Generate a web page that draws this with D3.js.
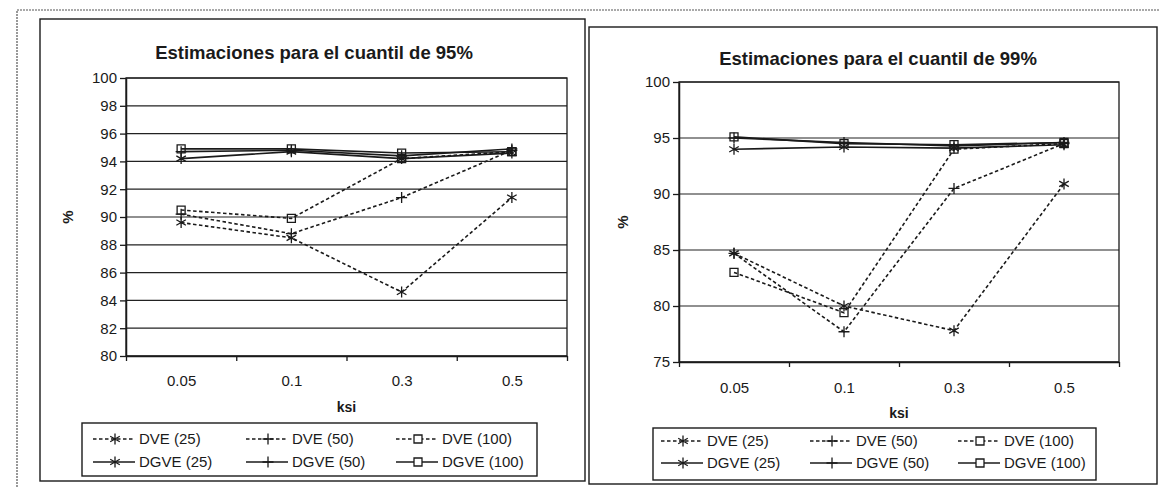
<!DOCTYPE html>
<html>
<head>
<meta charset="utf-8">
<script src="https://cdn.jsdelivr.net/npm/d3@7"></script>
<style>
  html, body { margin: 0; padding: 0; background: #fff; }
  svg { display: block; }
</style>
</head>
<body>
<svg id="chart" width="1160" height="487"></svg>
<script>
// ksi categories on the x axis
const categories = ['0.05', '0.1', '0.3', '0.5'];
const seriesNames = ['DVE (25)', 'DVE (50)', 'DVE (100)', 'DGVE (25)', 'DGVE (50)', 'DGVE (100)'];
const seriesMarkers = ['asterisk', 'plus', 'square', 'asterisk', 'plus', 'square'];
const seriesDashed = [true, true, true, false, false, false];

// quantile 95%
const dve25_95 = [89.6, 88.5, 84.6, 91.4];
const dve50_95 = [90.2, 88.8, 91.4, 94.8];
const dve100_95 = [90.5, 89.9, 94.2, 94.7];
const dgve25_95 = [94.2, 94.7, 94.2, 94.6];
const dgve50_95 = [94.7, 94.8, 94.4, 94.9];
const dgve100_95 = [94.9, 94.9, 94.6, 94.7];
const yTicks95 = [80, 82, 84, 86, 88, 90, 92, 94, 96, 98, 100];

// quantile 99%
const dve25_99 = [84.7, 80.0, 77.8, 90.9];
const dve50_99 = [84.7, 77.7, 90.5, 94.5];
const dve100_99 = [83.0, 79.4, 94.0, 94.5];
const dgve25_99 = [94.0, 94.2, 94.1, 94.4];
const dgve50_99 = [95.0, 94.6, 94.3, 94.6];
const dgve100_99 = [95.1, 94.5, 94.4, 94.6];
const yTicks99 = [75, 80, 85, 90, 95, 100];

const INK = '#1a1a1a';
const FONT = "'Liberation Sans', Arial, sans-serif";

const svg = d3.select('#chart');

// scanned page border (left + top)
svg.append('path')
    .attr('d', 'M17,487 V10 H1160')
    .attr('fill', 'none')
    .attr('stroke', '#555')
    .attr('stroke-width', 1.2)
    .attr('stroke-dasharray', '2,1');

function markerPath(type) {
    if (type === 'asterisk') {
        const r = 5.5, c = r * 0.87, s = r * 0.5;
        return `M0,${-r}V${r}M${-c},${-s}L${c},${s}M${-c},${s}L${c},${-s}`;
    }
    if (type === 'plus') return 'M-5.5,0H5.5M0,-5.5V5.5';
    return 'M-4,-4H4V4H-4Z';
}

function drawChart(cfg) {
    const g = svg.append('g');

    // chart box
    g.append('rect')
        .attr('x', cfg.box[0]).attr('y', cfg.box[1])
        .attr('width', cfg.box[2] - cfg.box[0]).attr('height', cfg.box[3] - cfg.box[1])
        .attr('fill', '#fff').attr('stroke', INK).attr('stroke-width', 1.4);

    const x = d3.scalePoint().domain(categories).range([cfg.plot[0], cfg.plot[2]]).padding(0.5);
    const xEdges = d3.scaleLinear().domain([0, categories.length]).range([cfg.plot[0], cfg.plot[2]]);
    const y = d3.scaleLinear().domain(d3.extent(cfg.yTicks)).range([cfg.plot[3], cfg.plot[1]]);

    // gridlines
    g.append('g').selectAll('line')
        .data(cfg.yTicks).enter().append('line')
        .attr('x1', cfg.plot[0]).attr('x2', cfg.plot[2])
        .attr('y1', d => y(d)).attr('y2', d => y(d))
        .attr('stroke', '#222').attr('stroke-width', 1.2);

    // plot border
    g.append('rect')
        .attr('x', cfg.plot[0]).attr('y', cfg.plot[1])
        .attr('width', cfg.plot[2] - cfg.plot[0]).attr('height', cfg.plot[3] - cfg.plot[1])
        .attr('fill', 'none').attr('stroke', INK).attr('stroke-width', 1.3);

    // y axis
    const yAxis = g.append('g')
        .attr('transform', `translate(${cfg.plot[0]},0)`)
        .call(d3.axisLeft(y).tickValues(cfg.yTicks).tickSize(6).tickPadding(3).tickSizeOuter(0));
    yAxis.select('.domain').attr('stroke', INK).attr('stroke-width', 1.5);
    yAxis.selectAll('.tick line').attr('stroke', INK).attr('stroke-width', 1.3);
    yAxis.selectAll('text').attr('font-family', FONT).attr('font-size', 15).attr('fill', INK);

    // x axis: tick marks between categories, labels on categories
    const xTicks = g.append('g')
        .attr('transform', `translate(0,${cfg.plot[3]})`)
        .call(d3.axisBottom(xEdges).ticks(categories.length).tickFormat('').tickSize(5).tickSizeOuter(0));
    xTicks.select('.domain').attr('stroke', INK).attr('stroke-width', 1.5);
    xTicks.selectAll('.tick line').attr('stroke', INK).attr('stroke-width', 1.3);

    const xLabels = g.append('g')
        .attr('transform', `translate(0,${cfg.plot[3]})`)
        .call(d3.axisBottom(x).tickSize(0).tickPadding(cfg.xLabelPad));
    xLabels.select('.domain').remove();
    xLabels.selectAll('text').attr('font-family', FONT).attr('font-size', 15).attr('fill', INK);

    // titles
    g.append('text')
        .attr('x', cfg.titleX).attr('y', cfg.titleY)
        .attr('text-anchor', 'middle')
        .attr('font-family', FONT).attr('font-size', 18.5).attr('font-weight', 'bold').attr('fill', INK)
        .text(cfg.title);

    g.append('text')
        .attr('x', (cfg.plot[0] + cfg.plot[2]) / 2).attr('y', cfg.ksiY)
        .attr('text-anchor', 'middle')
        .attr('font-family', FONT).attr('font-size', 14).attr('font-weight', 'bold').attr('fill', INK)
        .text('ksi');

    g.append('text')
        .attr('transform', `translate(${cfg.plot[0] - cfg.pctOffset},${(cfg.plot[1] + cfg.plot[3]) / 2}) rotate(-90)`)
        .attr('text-anchor', 'middle').attr('dy', '0.35em')
        .attr('font-family', FONT).attr('font-size', 15).attr('font-weight', 'bold').attr('fill', INK)
        .text('%');

    // series
    const line = d3.line().x((d, i) => x(categories[i])).y(d => y(d));
    const seriesG = g.append('g');
    cfg.series.forEach((vals, si) => {
        seriesG.append('path')
            .datum(vals)
            .attr('d', line)
            .attr('fill', 'none')
            .attr('stroke', INK)
            .attr('stroke-width', 1.6)
            .attr('stroke-dasharray', seriesDashed[si] ? '3.5,2.5' : null);
    });
    cfg.series.forEach((vals, si) => {
        seriesG.append('g').selectAll('path')
            .data(vals).enter().append('path')
            .attr('transform', (d, i) => `translate(${x(categories[i])},${y(d)})`)
            .attr('d', markerPath(seriesMarkers[si]))
            .attr('fill', 'none')
            .attr('stroke', INK)
            .attr('stroke-width', 1.3);
    });

    // legend
    const lg = g.append('g');
    lg.append('rect')
        .attr('x', cfg.legend[0]).attr('y', cfg.legend[1])
        .attr('width', cfg.legend[2] - cfg.legend[0]).attr('height', cfg.legend[3] - cfg.legend[1])
        .attr('fill', '#fff').attr('stroke', INK).attr('stroke-width', 1.4);

    seriesNames.forEach((name, si) => {
        const col = si % 3, row = Math.floor(si / 3);
        const sx = cfg.legendColX[col];
        const cy = cfg.legendRowY[row];
        const item = lg.append('g');
        item.append('line')
            .attr('x1', sx).attr('x2', sx + 42)
            .attr('y1', cy).attr('y2', cy)
            .attr('stroke', INK).attr('stroke-width', 1.6)
            .attr('stroke-dasharray', seriesDashed[si] ? '3.5,2.5' : null);
        item.append('path')
            .attr('transform', `translate(${sx + 22},${cy})`)
            .attr('d', markerPath(seriesMarkers[si]))
            .attr('fill', seriesMarkers[si] === 'square' ? '#fff' : 'none')
            .attr('stroke', INK).attr('stroke-width', 1.3);
        item.append('text')
            .attr('x', sx + 46).attr('y', cy).attr('dy', '0.35em')
            .attr('font-family', FONT).attr('font-size', 15).attr('fill', INK)
            .text(name);
    });
}

drawChart({
    title: 'Estimaciones para el cuantil de 95%',
    box: [40, 19, 585, 481],
    plot: [126, 78, 567, 356],
    yTicks: yTicks95,
    series: [dve25_95, dve50_95, dve100_95, dgve25_95, dgve50_95, dgve100_95],
    titleX: 314, titleY: 59,
    ksiY: 412,
    xLabelPad: 19,
    pctOffset: 58,
    legend: [82, 423, 537, 476],
    legendColX: [93, 246, 396],
    legendRowY: [439, 462]
});

drawChart({
    title: 'Estimaciones para el cuantil de 99%',
    box: [589, 27, 1157, 484],
    plot: [679, 82, 1119, 362],
    yTicks: yTicks99,
    series: [dve25_99, dve50_99, dve100_99, dgve25_99, dgve50_99, dgve100_99],
    titleX: 878, titleY: 65,
    ksiY: 418,
    xLabelPad: 20,
    pctOffset: 56,
    legend: [653, 428, 1096, 480],
    legendColX: [661, 810, 958],
    legendRowY: [441, 463]
});
</script>
</body>
</html>
